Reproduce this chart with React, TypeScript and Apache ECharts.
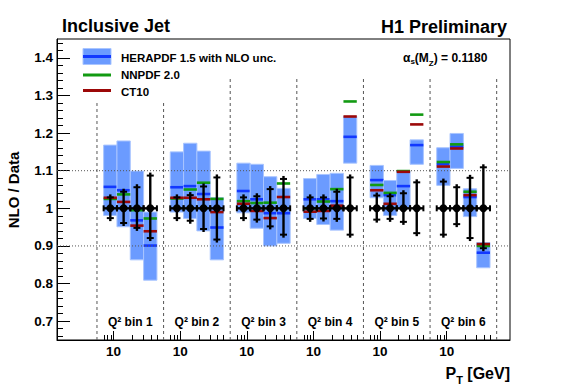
import React, { useEffect, useRef } from "react";
import * as echarts from "echarts";

// ---------- data ----------
const binLabels = ["Q² bin 1", "Q² bin 2", "Q² bin 3", "Q² bin 4", "Q² bin 5", "Q² bin 6"];
const binStarts = [0.6, 1.6, 2.6, 3.6, 4.6, 5.6];
const slotOffsets = [0.2, 0.4, 0.6, 0.8];
const separatorX = [0.6, 1.6, 2.6, 3.6, 4.6, 5.6, 6.6];
const separatorTop = [1.282, 1.282, 1.346, 1.346, 1.346, 1.346, 1.346];
const referenceLines = [1.1, 0.9];

// HERAPDF 1.5 band (upper / lower edge) and central value, 4 pT bins per Q2 bin
const heraHigh = [1.168, 1.179, 1.099, 0.99, 1.15, 1.173, 1.152, 1.028, 1.12, 1.117, 1.084, 1.053, 1.079, 1.09, 1.093, 1.244, 1.114, 1.074, 1.099, 1.182, 1.161, 1.199, 1.052, 0.909];
const heraLow = [0.981, 0.951, 0.863, 0.809, 0.99, 0.973, 0.94, 0.863, 0.988, 0.947, 0.9, 0.907, 0.973, 0.957, 0.942, 1.12, 1.028, 0.981, 1.002, 1.117, 1.061, 1.106, 0.978, 0.842];
const heraCentral = [1.057, 1.048, 0.968, 0.901, 1.056, 1.059, 1.038, 0.949, 1.046, 1.024, 0.987, 0.987, 1.024, 1.024, 1.019, 1.19, 1.075, 1.035, 1.059, 1.168, 1.117, 1.164, 1.03, 0.882];
const nnpdfValues = [1.025, 1.037, 0.995, 0.973, 1.026, 1.05, 1.068, 1.025, 1.019, 1.014, 1.015, 1.066, 1.0, 1.018, 1.051, 1.284, 1.062, 1.041, 1.099, 1.249, 1.123, 1.17, 1.044, 0.9];
const ct10Values = [1.028, 1.017, 0.954, 0.939, 1.028, 1.028, 1.024, 0.99, 1.012, 0.993, 0.974, 1.03, 0.991, 0.993, 1.007, 1.244, 1.048, 1.012, 1.097, 1.223, 1.111, 1.159, 1.035, 0.905];
// data (NLO/Data = 1) with total uncertainty
const dataValue = 1.0;
const errHigh = [1.037, 1.052, 1.064, 1.095, 1.037, 1.043, 1.066, 1.09, 1.037, 1.04, 1.059, 1.086, 1.037, 1.037, 1.052, 1.09, 1.042, 1.04, 1.048, 1.077, 1.079, 1.064, 1.089, 1.117];
const errLow = [0.966, 0.953, 0.94, 0.913, 0.966, 0.959, 0.937, 0.909, 0.966, 0.962, 0.944, 0.922, 0.964, 0.965, 0.964, 0.922, 0.962, 0.964, 0.956, 0.926, 0.922, 0.95, 0.913, 0.886];

const yTickValues = [0.7, 0.8, 0.9, 1.0, 1.1, 1.2, 1.3, 1.4];
const yTickLabels = ["0.7", "0.8", "0.9", "1", "1.1", "1.2", "1.3", "1.4"];
const xTickLabels = ["10", "10", "10", "10", "10", "10"];
const xLabelOffset = 0.25;
const logMinorPT = [7, 8, 9, 20, 30, 40, 50];

const X_MIN = 0;
const X_MAX = 6.8;
const Y_MIN = 0.65;
const Y_MAX = 1.45;
const HALF = 0.1;

const FONT = '"Liberation Sans", Arial, Helvetica, sans-serif';
const BAND_FILL = "#6b9bff";
const BAND_EDGE = "#a9c5ff";
const BLUE = "#1238ff";
const GREEN = "#129a12";
const RED = "#9c0808";

const xPositions = binStarts.flatMap((b) => slotOffsets.map((o) => b + o));
const labelPositions = binStarts.map((b) => b + xLabelOffset);
const minorTickPositions = binStarts.flatMap((b) =>
  logMinorPT.map((pt) => b + xLabelOffset + 0.93 * Math.log10(pt / 10))
);
const yMinorTicks: number[] = [];
for (let k = 0; k <= 40; k++) {
  const v = Math.round((0.66 + 0.02 * k) * 1000) / 1000;
  if (v < Y_MAX) yMinorTicks.push(v);
}

let measureCtx: CanvasRenderingContext2D | null = null;
function measure(text: string, font: string): number {
  if (!measureCtx) measureCtx = document.createElement("canvas").getContext("2d");
  if (!measureCtx) return text.length * 7;
  measureCtx.font = font;
  return measureCtx.measureText(text).width;
}

// pieces: [text, fontSize, dy]; laid out left-to-right starting at x
function piecewiseText(pieces: [string, number, number][], x: number, y: number, anchor: "left" | "right") {
  const widths = pieces.map(([t, fs]) => measure(t, `bold ${fs}px ${FONT}`));
  const total = widths.reduce((a, b) => a + b, 0);
  let cx = anchor === "left" ? x : x - total;
  const els: any[] = [];
  pieces.forEach(([t, fs, dy], i) => {
    els.push({
      type: "text",
      style: { text: t, x: cx, y: y + dy, fill: "#000", font: `bold ${fs}px ${FONT}`, align: "left", verticalAlign: "middle" },
    });
    cx += widths[i];
  });
  return els;
}

function buildOption(): any {
  const bandData = xPositions.map((x, i) => [x, heraLow[i], heraHigh[i], heraCentral[i]]);
  const nnData = xPositions.map((x, i) => [x, nnpdfValues[i]]);
  const ctData = xPositions.map((x, i) => [x, ct10Values[i]]);
  const ptData = xPositions.map((x, i) => [x, dataValue, errLow[i], errHigh[i]]);
  const sepData = separatorX.map((x, i) => [x, separatorTop[i]]);
  const refData = referenceLines.map((y) => [X_MIN, y]);
  const binLabelData = binStarts.map((b, i) => [b + 0.5, Y_MIN, i]);

  const pdfLine = (color: string) => (params: any, api: any) => {
    const x = api.value(0);
    const v = api.value(1);
    const a = api.coord([x - HALF, v]);
    const b = api.coord([x + HALF, v]);
    return {
      type: "line",
      shape: { x1: a[0], y1: a[1], x2: b[0], y2: b[1] },
      style: { stroke: color, lineWidth: 2.6 },
    };
  };

  const alphaText = piecewiseText(
    [
      ["α", 12, 0],
      ["s", 8, 3.5],
      ["(M", 12, 0],
      ["Z", 8, 5.5],
      [") = 0.1180", 12, 0],
    ],
    403,
    58,
    "left"
  );
  const ptTitle = piecewiseText(
    [
      ["P", 16, 0],
      ["T", 11, 6.5],
      [" [GeV]", 16, 0],
    ],
    510,
    373,
    "right"
  );

  return {
    animation: false,
    backgroundColor: "#ffffff",
    grid: {
      left: 57,
      right: 57,
      top: 39,
      bottom: 51,
      show: true,
      borderColor: "#000",
      borderWidth: 1,
      backgroundColor: "transparent",
    },
    xAxis: [
      {
        type: "value",
        min: X_MIN,
        max: X_MAX,
        position: "bottom",
        axisLine: { show: true, lineStyle: { color: "#000", width: 1 } },
        axisTick: { show: true, inside: true, length: 5, customValues: minorTickPositions, lineStyle: { color: "#000" } },
        axisLabel: {
          show: true,
          customValues: labelPositions,
          formatter: (v: number) => {
            const idx = labelPositions.findIndex((p) => Math.abs(p - v) < 1e-6);
            return idx >= 0 ? xTickLabels[idx] : "";
          },
          color: "#000",
          fontSize: 13.5,
          fontWeight: "bold",
          fontFamily: FONT,
          margin: 4,
        },
        splitLine: { show: false },
      },
      {
        type: "value",
        min: X_MIN,
        max: X_MAX,
        position: "bottom",
        axisLine: { show: false },
        axisTick: { show: true, inside: true, length: 9, customValues: labelPositions, lineStyle: { color: "#000" } },
        axisLabel: { show: false },
        splitLine: { show: false },
      },
    ],
    yAxis: [
      {
        type: "value",
        min: Y_MIN,
        max: Y_MAX,
        position: "left",
        axisLine: { show: true, lineStyle: { color: "#000", width: 1 } },
        axisTick: { show: true, inside: true, length: 13, customValues: yTickValues, lineStyle: { color: "#000" } },
        axisLabel: {
          show: true,
          customValues: yTickValues,
          formatter: (v: number) => {
            const idx = yTickValues.findIndex((p) => Math.abs(p - v) < 1e-6);
            return idx >= 0 ? yTickLabels[idx] : "";
          },
          color: "#000",
          fontSize: 13.5,
          fontWeight: "bold",
          fontFamily: FONT,
          margin: 4,
        },
        splitLine: { show: false },
      },
      {
        type: "value",
        min: Y_MIN,
        max: Y_MAX,
        position: "left",
        axisLine: { show: false },
        axisTick: { show: true, inside: true, length: 6, customValues: yMinorTicks, lineStyle: { color: "#000" } },
        axisLabel: { show: false },
        splitLine: { show: false },
      },
    ],
    graphic: [
      {
        type: "text",
        style: { text: "Inclusive Jet", x: 62, y: 26, fill: "#000", font: `bold 18px ${FONT}`, align: "left", verticalAlign: "middle" },
      },
      {
        type: "text",
        style: { text: "H1 Preliminary", x: 507, y: 27, fill: "#000", font: `bold 18px ${FONT}`, align: "right", verticalAlign: "middle" },
      },
      ...alphaText,
      // legend
      { type: "rect", shape: { x: 83, y: 48.5, width: 28, height: 16 }, style: { fill: BAND_FILL, stroke: BAND_EDGE, lineWidth: 1 } },
      { type: "line", shape: { x1: 83, y1: 56.5, x2: 111, y2: 56.5 }, style: { stroke: BLUE, lineWidth: 3 } },
      { type: "line", shape: { x1: 83, y1: 75, x2: 111, y2: 75 }, style: { stroke: GREEN, lineWidth: 3 } },
      { type: "line", shape: { x1: 83, y1: 90.5, x2: 111, y2: 90.5 }, style: { stroke: RED, lineWidth: 3 } },
      {
        type: "text",
        style: { text: "HERAPDF 1.5 with NLO unc.", x: 121, y: 58, fill: "#000", font: `bold 11.5px ${FONT}`, align: "left", verticalAlign: "middle" },
      },
      {
        type: "text",
        style: { text: "NNPDF 2.0", x: 121, y: 75, fill: "#000", font: `bold 11.5px ${FONT}`, align: "left", verticalAlign: "middle" },
      },
      {
        type: "text",
        style: { text: "CT10", x: 121, y: 92, fill: "#000", font: `bold 11.5px ${FONT}`, align: "left", verticalAlign: "middle" },
      },
      // axis titles
      {
        type: "text",
        x: 13,
        y: 190,
        rotation: Math.PI / 2,
        style: { text: "NLO / Data", x: 0, y: 0, fill: "#000", font: `bold 15px ${FONT}`, align: "center", verticalAlign: "middle" },
      },
      ...ptTitle,
    ],
    series: [
      {
        name: "separators",
        type: "custom",
        z: 1,
        data: sepData,
        renderItem: (params: any, api: any) => {
          const x = api.value(0);
          const top = api.value(1);
          const a = api.coord([x, Y_MIN]);
          const b = api.coord([x, top]);
          return {
            type: "line",
            shape: { x1: a[0], y1: a[1], x2: b[0], y2: b[1] },
            style: { stroke: "#555", lineWidth: 1, lineDash: [3, 3] },
          };
        },
      },
      {
        name: "HERAPDF 1.5 with NLO unc.",
        type: "custom",
        z: 2,
        data: bandData,
        renderItem: (params: any, api: any) => {
          const x = api.value(0);
          const lo = api.value(1);
          const hi = api.value(2);
          const c = api.value(3);
          const p1 = api.coord([x - HALF, hi]);
          const p2 = api.coord([x + HALF, lo]);
          const pc = api.coord([x, c]);
          return {
            type: "group",
            children: [
              {
                type: "rect",
                shape: { x: p1[0], y: p1[1], width: p2[0] - p1[0], height: p2[1] - p1[1] },
                style: { fill: BAND_FILL, stroke: BAND_EDGE, lineWidth: 1 },
              },
              {
                type: "line",
                shape: { x1: p1[0], y1: pc[1], x2: p2[0], y2: pc[1] },
                style: { stroke: BLUE, lineWidth: 2.6 },
              },
            ],
          };
        },
      },
      {
        name: "reference",
        type: "custom",
        z: 3,
        data: refData,
        renderItem: (params: any, api: any) => {
          const y = api.value(1);
          const a = api.coord([X_MIN, y]);
          const b = api.coord([X_MAX, y]);
          return {
            type: "line",
            shape: { x1: a[0], y1: a[1], x2: b[0], y2: b[1] },
            style: { stroke: "#555", lineWidth: 1, lineDash: [1, 2] },
          };
        },
      },
      { name: "NNPDF 2.0", type: "custom", z: 4, data: nnData, renderItem: pdfLine(GREEN) },
      { name: "CT10", type: "custom", z: 5, data: ctData, renderItem: pdfLine(RED) },
      {
        name: "Data",
        type: "custom",
        z: 6,
        data: ptData,
        renderItem: (params: any, api: any) => {
          const x = api.value(0);
          const v = api.value(1);
          const lo = api.value(2);
          const hi = api.value(3);
          const c = api.coord([x, v]);
          const l = api.coord([x - HALF, v]);
          const r = api.coord([x + HALF, v]);
          const t = api.coord([x, hi]);
          const b = api.coord([x, lo]);
          const st = { stroke: "#000", lineWidth: 2.4 };
          const cap = { stroke: "#000", lineWidth: 2 };
          return {
            type: "group",
            children: [
              { type: "line", shape: { x1: l[0], y1: c[1], x2: r[0], y2: c[1] }, style: st },
              { type: "line", shape: { x1: l[0], y1: c[1] - 3, x2: l[0], y2: c[1] + 3 }, style: cap },
              { type: "line", shape: { x1: r[0], y1: c[1] - 3, x2: r[0], y2: c[1] + 3 }, style: cap },
              { type: "line", shape: { x1: c[0], y1: t[1], x2: c[0], y2: b[1] }, style: st },
              { type: "line", shape: { x1: c[0] - 3.5, y1: t[1] + 3, x2: c[0] + 3.5, y2: t[1] + 3 }, style: cap },
              { type: "line", shape: { x1: c[0] - 3.5, y1: b[1] - 3, x2: c[0] + 3.5, y2: b[1] - 3 }, style: cap },
              { type: "circle", shape: { cx: c[0], cy: c[1], r: 4 }, style: { fill: "#000" } },
            ],
          };
        },
      },
      {
        name: "binLabels",
        type: "custom",
        z: 7,
        data: binLabelData,
        renderItem: (params: any, api: any) => {
          const x = api.value(0);
          const y = api.value(1);
          const idx = api.value(2);
          const p = api.coord([x, y]);
          return {
            type: "text",
            style: {
              text: binLabels[idx],
              x: p[0],
              y: p[1] - 18,
              fill: "#000",
              font: `bold 12px ${FONT}`,
              align: "center",
              verticalAlign: "middle",
            },
          };
        },
      },
    ],
  };
}

export default function App() {
  const ref = useRef<HTMLDivElement>(null);
  useEffect(() => {
    if (!ref.current) return;
    const chart = echarts.init(ref.current, null, { renderer: "svg" });
    chart.setOption(buildOption());
    return () => chart.dispose();
  }, []);
  return (
    <div
      ref={ref}
      style={{ position: "absolute", left: 0, top: 0, width: 567, height: 391, background: "#fff" }}
    />
  );
}
